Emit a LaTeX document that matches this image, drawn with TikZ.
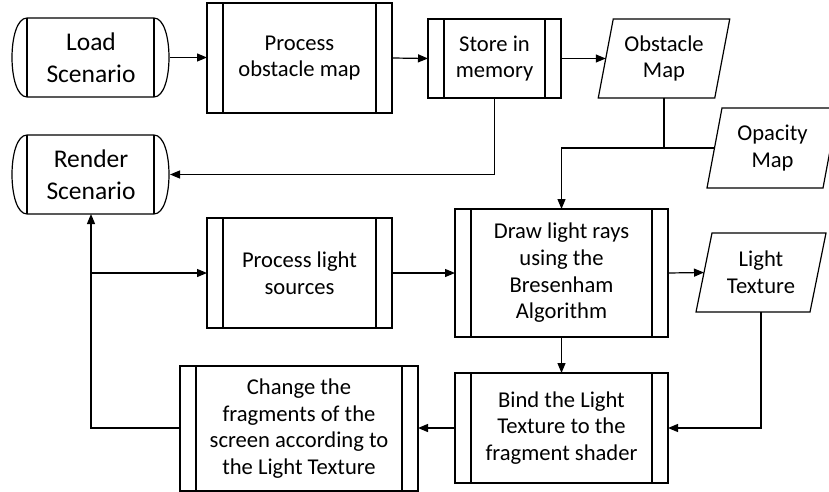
\documentclass[tikz,border=0pt]{standalone}
\usepackage{fontspec}
\setmainfont{Carlito}
\usetikzlibrary{arrows.meta,calc}
\tikzset{
  lw/.style={line width=1.2pt},
  txt/.style={font=\fontsize{22.6}{26.7}\selectfont, align=center, inner sep=0pt, outer sep=0pt},
  pproc/.style={txt, lw, draw, rectangle,
    path picture={
      \draw[lw] ([xshift=16pt]path picture bounding box.north west) -- ([xshift=16pt]path picture bounding box.south west);
      \draw[lw] ([xshift=-16pt]path picture bounding box.north east) -- ([xshift=-16pt]path picture bounding box.south east);
    }},
  term/.style={txt, font=\fontsize{25.5}{31.5}\selectfont, rectangle, minimum width=158pt, minimum height=79pt},
  para/.style={txt, rectangle},
  conn/.style={lw, -{Triangle[length=10pt,width=8pt]}},
  plain/.style={lw},
}
\newcommand{\termshape}[1]{%
  \draw[lw] ([xshift=15pt]#1.north west) -- ([xshift=-16pt]#1.north east)
    .. controls +(20pt,0) and +(20pt,0) .. ([xshift=-16pt]#1.south east)
    -- ([xshift=15pt]#1.south west)
    .. controls +(-20pt,0) and +(-20pt,0) .. ([xshift=15pt]#1.north west) -- cycle;
  \draw[lw] ([xshift=-16pt]#1.north east) -- ([xshift=-16pt]#1.south east);
  \draw[lw] ([xshift=15pt]#1.north west) -- ([xshift=15pt]#1.south west);
}
\newcommand{\parashape}[2]{%
  \draw[lw] ([xshift=#2]#1.north west) -- ([xshift=#2]#1.north east)
    -- ([xshift=-#2]#1.south east) -- ([xshift=-#2]#1.south west) -- cycle;
}
\begin{document}
\begin{tikzpicture}[x=1pt,y=-1pt]
\useasboundingbox[fill=white] (0,0) rectangle (829,492);

\node[term] (ls) at (91,57.5) {Load\\Scenario};
\node[term] (rs) at (91,174.5) {Render\\Scenario};
\termshape{ls}
\termshape{rs}

\node[pproc, minimum width=185pt, minimum height=110pt] (pom) at (299.5,58) {Process\\obstacle map};
\node[pproc, minimum width=133pt, minimum height=79pt] (sim) at (494.5,58.5) {Store in\\memory};
\node[para, minimum width=116.5pt, minimum height=79pt] (om) at (664,58.5) {Obstacle\\Map};
\parashape{om}{7.5pt}
\node[para, minimum width=116pt, minimum height=80pt] (opm) at (772.5,148) {Opacity\\Map};
\parashape{opm}{7.5pt}

\node[pproc, minimum width=185pt, minimum height=110pt] (pls) at (299.5,273) {Process light\\sources};
\node[pproc, minimum width=213pt, minimum height=128pt] (dlr) at (561.5,273) {Draw light rays\\using the\\Bresenham\\Algorithm};
\node[para, minimum width=114pt, minimum height=79pt] (lt) at (761,272.5) {Light\\Texture};
\parashape{lt}{8pt}

\node[pproc, minimum width=213pt, minimum height=110pt] (bind) at (561.5,428) {Bind the Light\\Texture to the\\fragment shader};
\node[pproc, minimum width=238pt, minimum height=125pt] (chg) at (299,428.5) {Change the\\fragments of the\\screen according to\\the Light Texture};

\draw[conn] (ls.east) -- (pom.west |- ls.east);
\draw[conn] (pom.east) -- (sim.west);
\draw[conn] (sim.east) -- (om.west);
\draw[conn] (sim.south) |- (rs.east);
\draw[plain] (om.south) -- (om.south |- opm.west);
\draw[conn] (opm.west) -| (dlr.north);
\draw[conn] (pls.east) -- (dlr.west);
\draw[conn] (dlr.east) -- (lt.west);
\draw[conn] (dlr.south) -- (bind.north);
\draw[conn] (lt.south) |- (bind.east);
\draw[conn] (bind.west) -- (chg.east |- bind.west);
\draw[conn] (chg.west |- bind.west) -| (rs.south);
\draw[conn] (rs.south |- pls.west) -- (pls.west);
\end{tikzpicture}
\end{document}
